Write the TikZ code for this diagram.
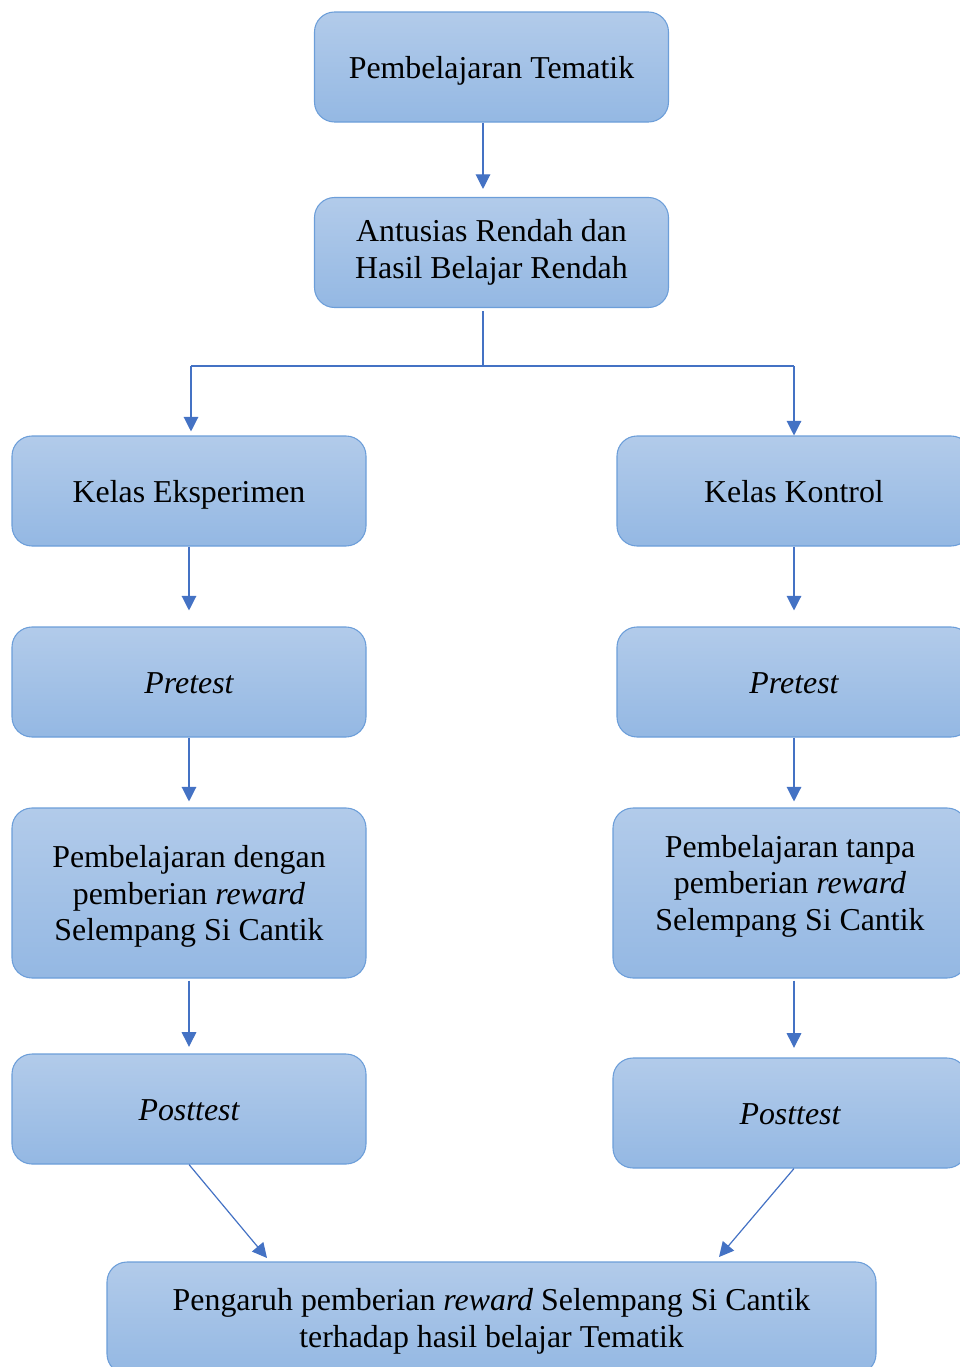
\documentclass[tikz,border=0pt]{standalone}
\usepackage{fontspec}
\setmainfont{Liberation Serif}
\usetikzlibrary{arrows.meta,positioning,calc}
\definecolor{boxtop}{RGB}{178,203,234}
\definecolor{boxbottom}{RGB}{148,184,227}
\definecolor{boxline}{RGB}{108,158,217}
\definecolor{flowline}{RGB}{68,114,196}

\begin{document}
\begin{tikzpicture}[x=0.75pt, y=-0.75pt]
		\useasboundingbox (0,0) rectangle (960,1367);
		\clip (0,0) rectangle (960,1367);
		\begin{scope}[every node/.style={draw=boxline, line width=0.8pt, top color=boxtop, bottom color=boxbottom,
				rounded corners=15pt, align=center, minimum width=265.5pt, minimum height=82.5pt,
				font=\fontsize{23.9}{27.4}\selectfont},
				oneline/.style={text height=21pt, text depth=4.5pt}]
			\node[oneline] (pt) at (491.5,67) {Pembelajaran Tematik};
			\node (ar) at (491.5,252.5) {Antusias Rendah dan\\Hasil Belajar Rendah};
			\node[oneline] (ke) at (189,491) {Kelas Eksperimen};
			\node[oneline] (kk) at (794,491) {Kelas Kontrol};
			\node[oneline] (pre1) at (189,682) {\itshape Pretest};
			\node[oneline] (pre2) at (794,682) {\itshape Pretest};
			\node[minimum height=127.5pt, text depth=0pt] (pb1) at (189,893) {Pembelajaran dengan\\pemberian \textit{reward}\\Selempang Si Cantik};
			\node[minimum height=127.5pt, text depth=15.5pt] (pb2) at (790,893) {Pembelajaran tanpa\\pemberian \textit{reward}\\Selempang Si Cantik};
			\node[oneline] (post1) at (189,1109) {\itshape Posttest};
			\node[oneline] (post2) at (790,1113) {\itshape Posttest};
			\node[minimum width=576.75pt, minimum height=84pt, text depth=0pt] (hs) at (491.5,1318) {Pengaruh pemberian \textit{reward} Selempang Si Cantik\\terhadap hasil belajar Tematik};
		\end{scope}
		\coordinate (split) at (483,366);
		\coordinate (splitL) at (191,366);
		\coordinate (splitR) at (794,366);
		\coordinate (hsL) at (267,1258);
		\coordinate (hsR) at (719,1257);
		\begin{scope}[>={Triangle[width=11pt,length=11pt]}, every edge/.style={draw=flowline, line width=0.9pt}]
			\path[->, shorten >=6pt]
				(pt.south -| split) edge (ar.north -| split);
			\path (ar.south -| split) ++(0,3) edge (split);
			\path (splitL) edge (splitR);
			\path[->]
				(splitL) edge[shorten >=3pt] (ke.north -| splitL)
				(splitR) edge (kk.north);
			\path[->, shorten >=12pt]
				(ke.south) edge (pre1.north)
				(kk.south -| splitR) edge (pre2.north -| splitR);
			\path[->, shorten >=4.5pt]
				(pre1.south) edge (pb1.north)
				(pre2.south -| splitR) edge (pb2.north -| splitR);
			\path[->, shorten >=5pt]
				(pb1.south) ++(0,2) edge (post1.north)
				(pb2.south -| splitR) ++(0,2) edge ($(post2.north -| splitR)+(0,-3)$);
			\path[->]
				(post1.south) edge (hsL)
				(post2.south -| splitR) edge (hsR);
		\end{scope}
	\end{tikzpicture}
\end{document}
